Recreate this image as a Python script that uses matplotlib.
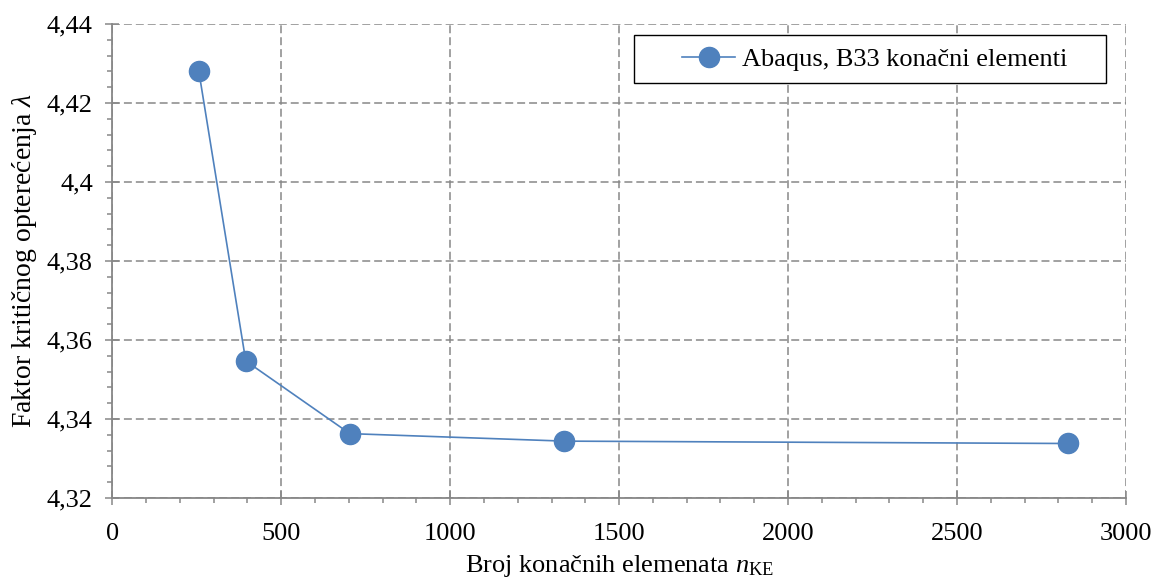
import matplotlib
matplotlib.use("Agg")
import matplotlib.pyplot as plt
import matplotlib.ticker as ticker
from matplotlib.patches import Rectangle

# broj konacnih elemenata i faktor kriticnog opterecenja
n_ke = [256, 395, 703, 1338, 2828]
lam = [4.4281, 4.3547, 4.3363, 4.3344, 4.3338]
series_label = "Abaqus, B33 konačni elementi"

plt.rcParams['font.family'] = ['Liberation Serif', 'DejaVu Serif']
plt.rcParams['mathtext.fontset'] = 'custom'
plt.rcParams['mathtext.rm'] = 'Liberation Serif'
plt.rcParams['mathtext.it'] = 'Liberation Serif:italic'

blue = '#4F81BD'
grey = '#878787'

fig = plt.figure(figsize=(11.54, 5.85), dpi=100)
ax = fig.add_axes([0.0973, 0.1487, 0.8784, 0.8103])

ax.plot(n_ke, lam, color=blue, linewidth=1.2, marker='o', markersize=14.5,
        markerfacecolor=blue, markeredgecolor=blue, label=series_label, zorder=3)

ax.set_xlim(0, 3000)
ax.set_ylim(4.32, 4.44)
ax.xaxis.set_major_locator(ticker.MultipleLocator(500))
ax.xaxis.set_minor_locator(ticker.MultipleLocator(100))
ax.yaxis.set_major_locator(ticker.MultipleLocator(0.02))
ax.yaxis.set_minor_locator(ticker.MultipleLocator(0.004))
ax.yaxis.set_major_formatter(ticker.FuncFormatter(lambda v, p: ('%g' % round(v, 4)).replace('.', ',')))
ax.xaxis.set_major_formatter(ticker.FuncFormatter(lambda v, p: '%d' % v))

ax.grid(True, which='major', linestyle=(0, (5.2, 2.6)), color=grey, linewidth=1.1)
ax.set_axisbelow(True)

for s in ['top', 'right']:
    ax.spines[s].set_visible(False)
for s in ['left', 'bottom']:
    ax.spines[s].set_color(grey)
    ax.spines[s].set_linewidth(1.3)

ax.tick_params(which='major', direction='inout', length=10, width=1.1, color=grey, labelsize=19)
ax.tick_params(axis='x', which='major', pad=13)
ax.tick_params(axis='y', which='major', pad=9)
ax.tick_params(which='minor', direction='out', length=3.8, width=1.1, color=grey)

ax.set_xlabel(r'Broj konačnih elemenata $n_{\mathrm{KE}}$', fontsize=19, labelpad=6)
ax.set_ylabel(r'Faktor kritičnog opterećenja $\lambda$', fontsize=20, labelpad=6)

# okvir legende
ax.add_patch(Rectangle((0.5148, 0.8755), 0.4655, 0.1013, transform=ax.transAxes,
                       facecolor='white', edgecolor='black', linewidth=1.0, zorder=4))
leg = ax.legend(loc='center', fontsize=19, frameon=False, handlelength=2.0,
                handletextpad=0.25, borderpad=0, bbox_to_anchor=(0.752, 0.926))
leg.set_zorder(5)

plt.savefig("out.png", dpi=100)
plt.close()
